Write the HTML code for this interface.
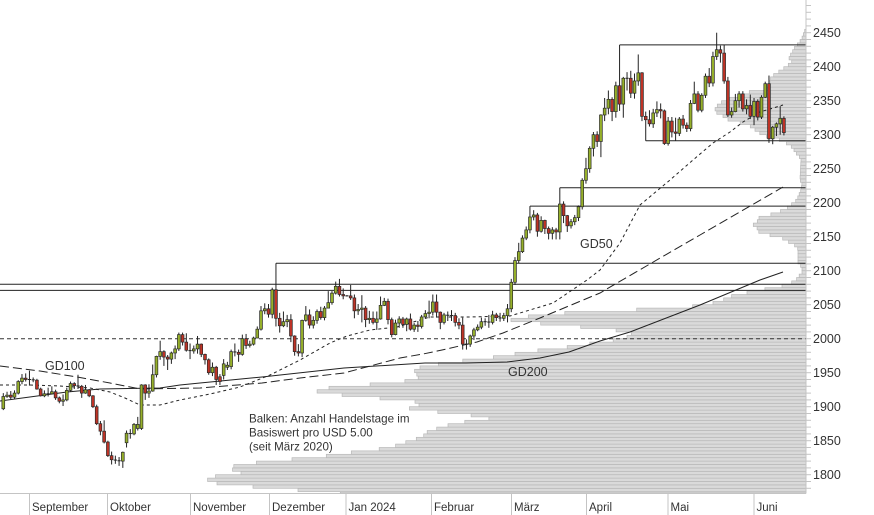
<!DOCTYPE html>
<html><head><meta charset="utf-8">
<style>
html,body{margin:0;padding:0;background:#fff;}
svg{display:block;}
text{font-family:"Liberation Sans",sans-serif;fill:#333;}
.ax{font-size:12.5px;}
.mo{font-size:11.5px;}
.lb{font-size:12.5px;}
.nt{font-size:11.6px;}
</style></head>
<body>
<svg width="874" height="515" viewBox="0 0 874 515" xmlns="http://www.w3.org/2000/svg">
<rect x="0" y="0" width="874" height="515" fill="#fff"/>
<g id="prof" fill="#dadada" stroke="#b8b8b8" stroke-width="0.7"></g>
<g stroke="#222" stroke-width="1" fill="none">
<line x1="619.6" y1="44.9" x2="806" y2="44.9"/>
<line x1="645.7" y1="140.8" x2="806" y2="140.8"/>
<line x1="559.8" y1="187.7" x2="806" y2="187.7"/>
<line x1="530" y1="206.1" x2="806" y2="206.1"/>
<line x1="276" y1="263.2" x2="806" y2="263.2"/>
<line x1="0" y1="284.3" x2="806" y2="284.3"/>
<line x1="0" y1="290.4" x2="806" y2="290.4"/>
<line x1="0" y1="338.7" x2="806" y2="338.7" stroke="#333" stroke-dasharray="4,3"/>
</g>
<g fill="none" stroke="#222" stroke-width="1">
<polyline stroke-dasharray="3,3" points="0,385 30,385 60,386 90,388 110,392 125,398 140,405 160,405 180,400 210,394 240,387 270,375 300,360 330,343 347,336 370,330 397,327 430,317 470,317 510,316 553,303 587,280 600,270 620,243 640,205 670,180 693,160 713,143 730,132 743,122 760,112 783,105"/>
<polyline stroke-dasharray="9,4" points="0,366 40,371 77,377 110,383 140,389 200,388 262,383 300,378 344,373 400,358 423,354 442,350 477,342 503,333 540,318 600,293 617,283 700,235 783,187"/>
<polyline points="0,401 67,392 100,389 160,388 180,385 200,383 262,377 344,368 425,363 466,363 507,362 540,358 569,352 600,341 630,332 700,305 760,280 783,272"/>
</g>
<g id="cd"></g>
<g id="axis" stroke="#c4c4c4" stroke-width="1" fill="none"></g>
<text class="ax" x="813" y="37.2">2450</text>
<text class="ax" x="813" y="71.2">2400</text>
<text class="ax" x="813" y="105.2">2350</text>
<text class="ax" x="813" y="139.2">2300</text>
<text class="ax" x="813" y="173.2">2250</text>
<text class="ax" x="813" y="207.2">2200</text>
<text class="ax" x="813" y="241.2">2150</text>
<text class="ax" x="813" y="275.2">2100</text>
<text class="ax" x="813" y="309.2">2050</text>
<text class="ax" x="813" y="343.2">2000</text>
<text class="ax" x="813" y="377.2">1950</text>
<text class="ax" x="813" y="411.2">1900</text>
<text class="ax" x="813" y="445.2">1850</text>
<text class="ax" x="813" y="479.2">1800</text>
<text class="mo" x="32" y="511">September</text>
<text class="mo" x="110" y="511">Oktober</text>
<text class="mo" x="193" y="511">November</text>
<text class="mo" x="272" y="511">Dezember</text>
<text class="mo" x="348.5" y="511">Jan 2024</text>
<text class="mo" x="434" y="511">Februar</text>
<text class="mo" x="514" y="511">März</text>
<text class="mo" x="589" y="511">April</text>
<text class="mo" x="670.5" y="511">Mai</text>
<text class="mo" x="756.5" y="511">Juni</text>
<text class="lb" x="45" y="370">GD100</text>
<text class="lb" x="580" y="248">GD50</text>
<text class="lb" x="508" y="376">GD200</text>
<text class="nt" x="249" y="422.5">Balken: Anzahl Handelstage im</text>
<text class="nt" x="249" y="436.5">Basiswert pro USD 5.00</text>
<text class="nt" x="249" y="450.5">(seit März 2020)</text>
</svg>
<script>
(function(){
function Y(p){return 32.7+(2450-p)*0.68;}
function X(i){return 3.3+3.735*i;}
var T=[[30,805],[33,804],[38,802],[43,799],[47,795],[51,793],[54,791],[58,789],[62,792],[66,787],[69,783],[73,777],[77,771],[81,770],[88,770],[92,750],[95,740],[98,732],[102,722],[106,717],[109,715],[113,717],[117,725],[121,730],[124,747],[128,753],[132,758],[136,765],[140,780],[144,788],[148,793],[152,795],[156,799],[160,801],[180,800],[183,802],[190,801],[197,798],[200,797],[203,793],[207,789],[211,781],[214,773],[218,759],[222,757],[225,753],[228,757],[232,759],[235,770],[238,782],[242,789],[246,796],[249,798],[263,798],[267,802],[273,802],[278,797],[281,796],[284,788],[287,779],[289,767],[293,746],[295,734],[298,728],[301,720],[303,713],[307,689],[310,633],[313,567],[317,524],[320,511],[323,536],[327,583],[330,615],[333,632],[337,627],[340,616],[343,595],[347,569],[350,542],[354,515],[357,497],[362,452],[367,421],[372,413],[377,421],[381,407],[385,366],[388,329],[392,315],[395,344],[399,389],[402,419],[406,419],[409,407],[412,440],[415,470],[419,491],[423,456],[429,436],[433,425],[437,423],[440,413],[444,401],[448,389],[453,348],[457,319],[461,274],[465,235],[469,231],[473,241],[477,211],[482,205],[485,235],[489,280],[493,352]];
function interp(y){
 if(y<=T[0][0])return T[0][1];
 for(var j=1;j<T.length;j++){if(y<=T[j][0]){var a=T[j-1],b=T[j];return a[1]+(b[1]-a[1])*(y-a[0])/(b[0]-a[0]);}}
 return T[T.length-1][1];
}
var s="";
for(var p=1770;p<2455;p+=5){
 var yt=Y(p+5),yb=Math.min(Y(p),493);
 if(yb<=yt)continue;
 var lx=interp((yt+yb)/2);
 s+='<rect x="'+lx.toFixed(1)+'" y="'+yt.toFixed(2)+'" width="'+(806-lx).toFixed(1)+'" height="'+(yb-yt).toFixed(2)+'"/>';
}
document.getElementById("prof").innerHTML=s;
var a='<line x1="806" y1="0" x2="806" y2="493.5"/><line x1="0" y1="493.5" x2="806" y2="493.5"/>';
[29.5,107.5,190.5,269.5,346,431.5,511.5,586.5,668,754].forEach(function(v){a+='<line x1="'+v+'" y1="493.5" x2="'+v+'" y2="515"/>';});
for(var q=1770;q<=2500;q+=10){var yy=Y(q);if(yy<0||yy>493)continue;a+='<line x1="806" y1="'+yy.toFixed(1)+'" x2="811" y2="'+yy.toFixed(1)+'"/>';}
document.getElementById("axis").innerHTML=a;
var S=[
"097120095115 115122113117 117123110114 114124112120 120139118137",
"137148133142 142149137140 140153131140 140143136139 139141125126",
"126128115116 116124114119 119128115119 119130118122 122125110113",
"113115105108 108118101110 110128108124 124137122134 134136126131",
"131147126130 130132113120 120132119125 125126114116 116117098100",
"100103073075 075079058064 064080046048 048050026028 028034015022",
"022028016021 021026013020 020034010033 047065040061 061067053060",
"060076058074 068085065074 068133066132 132133110120 120133113123",
"123162122147 147175143174 174197169181 181183160173 173176154170",
"170181163179 179190170185 185209182206 206209190195 195208181183",
"183193170182 182190178185 185204178192 192193173177 177178162169",
"169171147150 150165145158 158160132140 144148132137 146170140163",
"158166154161 159184155181 181193174180 180184166177 177206175200",
"200207185190 190197187192 192203190201 201218201214 214248212241",
"241252236244 244251231236 236275230272 272311218230 230238209219",
"219240217225 225235217228 228236195204 204205175181 181192174179",
"179228173227 227248225235 235243215220 220233215227 227243222240",
"240247228231 231248227245 245270245253 253270250267 267284265277",
"277288262265 265274258263 263264262263 263279257260 260265230241",
"241251235243 243264224245 245248217228 228241222230 230240221224",
"224240213229 229262228249 249260248255 255259221228 228231202206",
"206228205223 223233216229 229232216221 221231211229 229237212214",
"214223210220 220226210218 218235215232 232242230237 237256230239",
"239265234254 254265231239 239240214224 224238221235 235240226234",
"234242226234 234238218224 224230214220 220231184192 192199184192",
"192206188204 204216198213 213221211217 217231214225 225230219225",
"225235216224 224241221235 235238226231 231238225230 230238226234",
"234251224244 244288239283 283320279315 315341311328 328352326348",
"348365345360 360395355379 379389374382 382385350358 358380356374",
"374375354362 362365346355 355364346360 360363346357 357422346398",
"398402370381 381382357366 366376362372 372382367378 378396373394",
"394436390433 433466428450 450483444480 480504468500 500505482490",
"490530467529 529554520539 539565530552 552555520534 534578525572",
"572632535545 545585525583 583592565583 583594554561 561590553579",
"579618572591 591592520527 527534491522 522536512516 516538510532",
"532549526537 537546524535 535537485487 487526484520 520526496504",
"504525491502 502526498523 523529509514 514518504509 509551505546",
"546578545560 560564533536 536561533558 558590554586 586598570576",
"576622571615 615650610625 625631606620 620632575579 579585526529",
"529540525534 534560533550 550564540560 560564534538 538552530543",
"543559523527 527554514549 549552521526 526558523555 555578554575",
"575587488494 494513486511 511518498516 516542500524 524527499503"
].join("").replace(/\s/g,"");
var c="",n=S.length/12;
function v(k){return 1800+parseInt(S.substr(k*3,3),10);}
for(var i=0;i<n;i++){
 var o=v(4*i),h=v(4*i+1),l=v(4*i+2),cl=v(4*i+3),x=X(i);
 c+='<line x1="'+x.toFixed(2)+'" y1="'+Y(h).toFixed(2)+'" x2="'+x.toFixed(2)+'" y2="'+Y(l).toFixed(2)+'" stroke="#222" stroke-width="1"/>';
 var top=Y(Math.max(o,cl)),bot=Y(Math.min(o,cl));
 if(bot-top<1){
  c+='<rect x="'+(x-1.6).toFixed(2)+'" y="'+((top+bot)/2-0.5).toFixed(2)+'" width="3.2" height="1" fill="#222"/>';
 } else {
  c+='<rect x="'+(x-1.4).toFixed(2)+'" y="'+top.toFixed(2)+'" width="2.8" height="'+(bot-top).toFixed(2)+'" fill="'+(cl>=o?"#96b02a":"#bf3326")+'" stroke="#2a2a2a" stroke-width="0.7"/>';
 }
}
document.getElementById("cd").innerHTML=c;
})();
</script>
</body></html>
